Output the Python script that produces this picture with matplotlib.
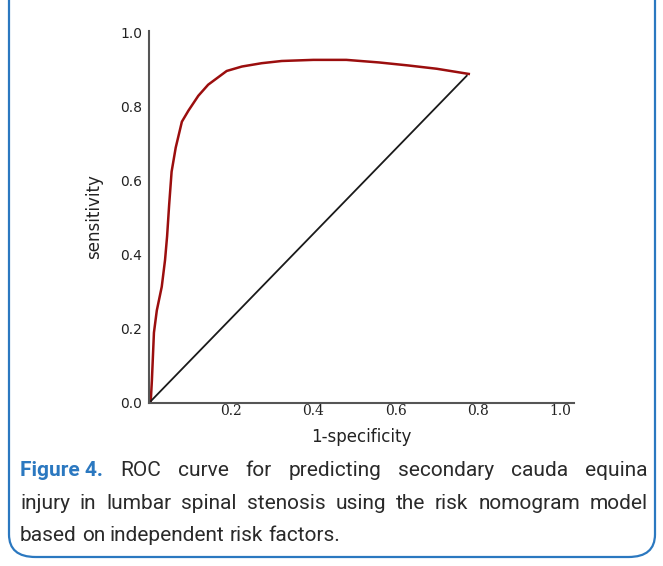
import matplotlib
matplotlib.use('Agg')
import matplotlib.pyplot as plt
from matplotlib.patches import FancyBboxPatch

# ROC curve points
fpr = [0.0, 0.004, 0.007, 0.012, 0.019, 0.031, 0.039, 0.044, 0.049, 0.055, 0.065,
       0.080, 0.096, 0.12, 0.144, 0.189, 0.226, 0.274, 0.323, 0.40, 0.48,
       0.56, 0.63, 0.70, 0.778]
tpr = [0.0, 0.0, 0.06, 0.19, 0.25, 0.314, 0.386, 0.45, 0.535, 0.625, 0.69,
       0.76, 0.79, 0.83, 0.86, 0.897, 0.909, 0.918, 0.924, 0.927, 0.927,
       0.92, 0.912, 0.903, 0.889]
diag_x = [0.0, 0.773]
diag_y = [0.0, 0.884]

xticks = [0.2, 0.4, 0.6, 0.8, 1.0]
yticks = [0.0, 0.2, 0.4, 0.6, 0.8, 1.0]

caption_lines = [
    ["ROC", "curve", "for", "predicting", "secondary", "cauda", "equina"],
    ["injury", "in", "lumbar", "spinal", "stenosis", "using", "the", "risk", "nomogram", "model"],
    ["based", "on", "independent", "risk", "factors."],
]

W, H = 663, 566
fig = plt.figure(figsize=(W / 100, H / 100), dpi=100)

# rounded blue frame
box = FancyBboxPatch((9 / W, 9 / H), 646 / W, 600 / H,
                     boxstyle="round,pad=0,rounding_size=0.04",
                     transform=fig.transFigure, fill=False,
                     edgecolor='#2b78c0', linewidth=1.6, clip_on=False)
fig.patches.append(box)

ax = fig.add_axes([149 / W, 1 - 403 / H, 425 / W, 372 / H])
ax.plot(fpr, tpr, color='#9b0e0e', lw=1.8)
ax.plot(diag_x, diag_y, color='#1a1a1a', lw=1.3)
ax.set_xlim(0, 1.034)
ax.set_ylim(0, 1.005)
for s in ['top', 'right']:
    ax.spines[s].set_visible(False)
for s in ['left', 'bottom']:
    ax.spines[s].set_color('#555555')
    ax.spines[s].set_linewidth(1.5)
ax.set_xticks(xticks)
ax.set_yticks(yticks)
ax.set_xticklabels([f'{t:.1f}' for t in xticks], family='DejaVu Serif', fontsize=10, color='#222222')
ax.set_yticklabels([f'{t:.1f}' for t in yticks], family='DejaVu Sans', fontsize=10, color='#222222')
ax.tick_params(length=0, pad=5)
ax.tick_params(axis='x', pad=1)
ax.set_xlabel('1-specificity', fontsize=12, color='#222222', labelpad=7)
ax.set_ylabel('sensitivity', fontsize=12, color='#222222', labelpad=12)

# caption, justified like the original
fs = 15
fam = 'Roboto'
left, right = 20, 648
line_y = [476, 509, 541]
renderer = fig.canvas.get_renderer()
head = fig.text(left / W, 1 - line_y[0] / H, 'Figure 4.', fontsize=fs, family=fam,
                weight='bold', color='#2b78c0', va='baseline')
hw = head.get_window_extent(renderer).width
for i, words in enumerate(caption_lines):
    y = 1 - line_y[i] / H
    start = left + (hw if i == 0 else 0)
    items = [fig.text(0, y, w, fontsize=fs, family=fam, color='#2a2a2a', va='baseline') for w in words]
    widths = [t.get_window_extent(renderer).width for t in items]
    if i < 2:
        n_gaps = len(words) - 1 + (1 if i == 0 else 0)
        gap = (right - start - sum(widths)) / n_gaps
    else:
        gap = fs * 0.33
    x = start + (gap if i == 0 else 0)
    for t, w in zip(items, widths):
        t.set_x(x / W)
        x += w + gap

fig.savefig('out.png', dpi=100)
